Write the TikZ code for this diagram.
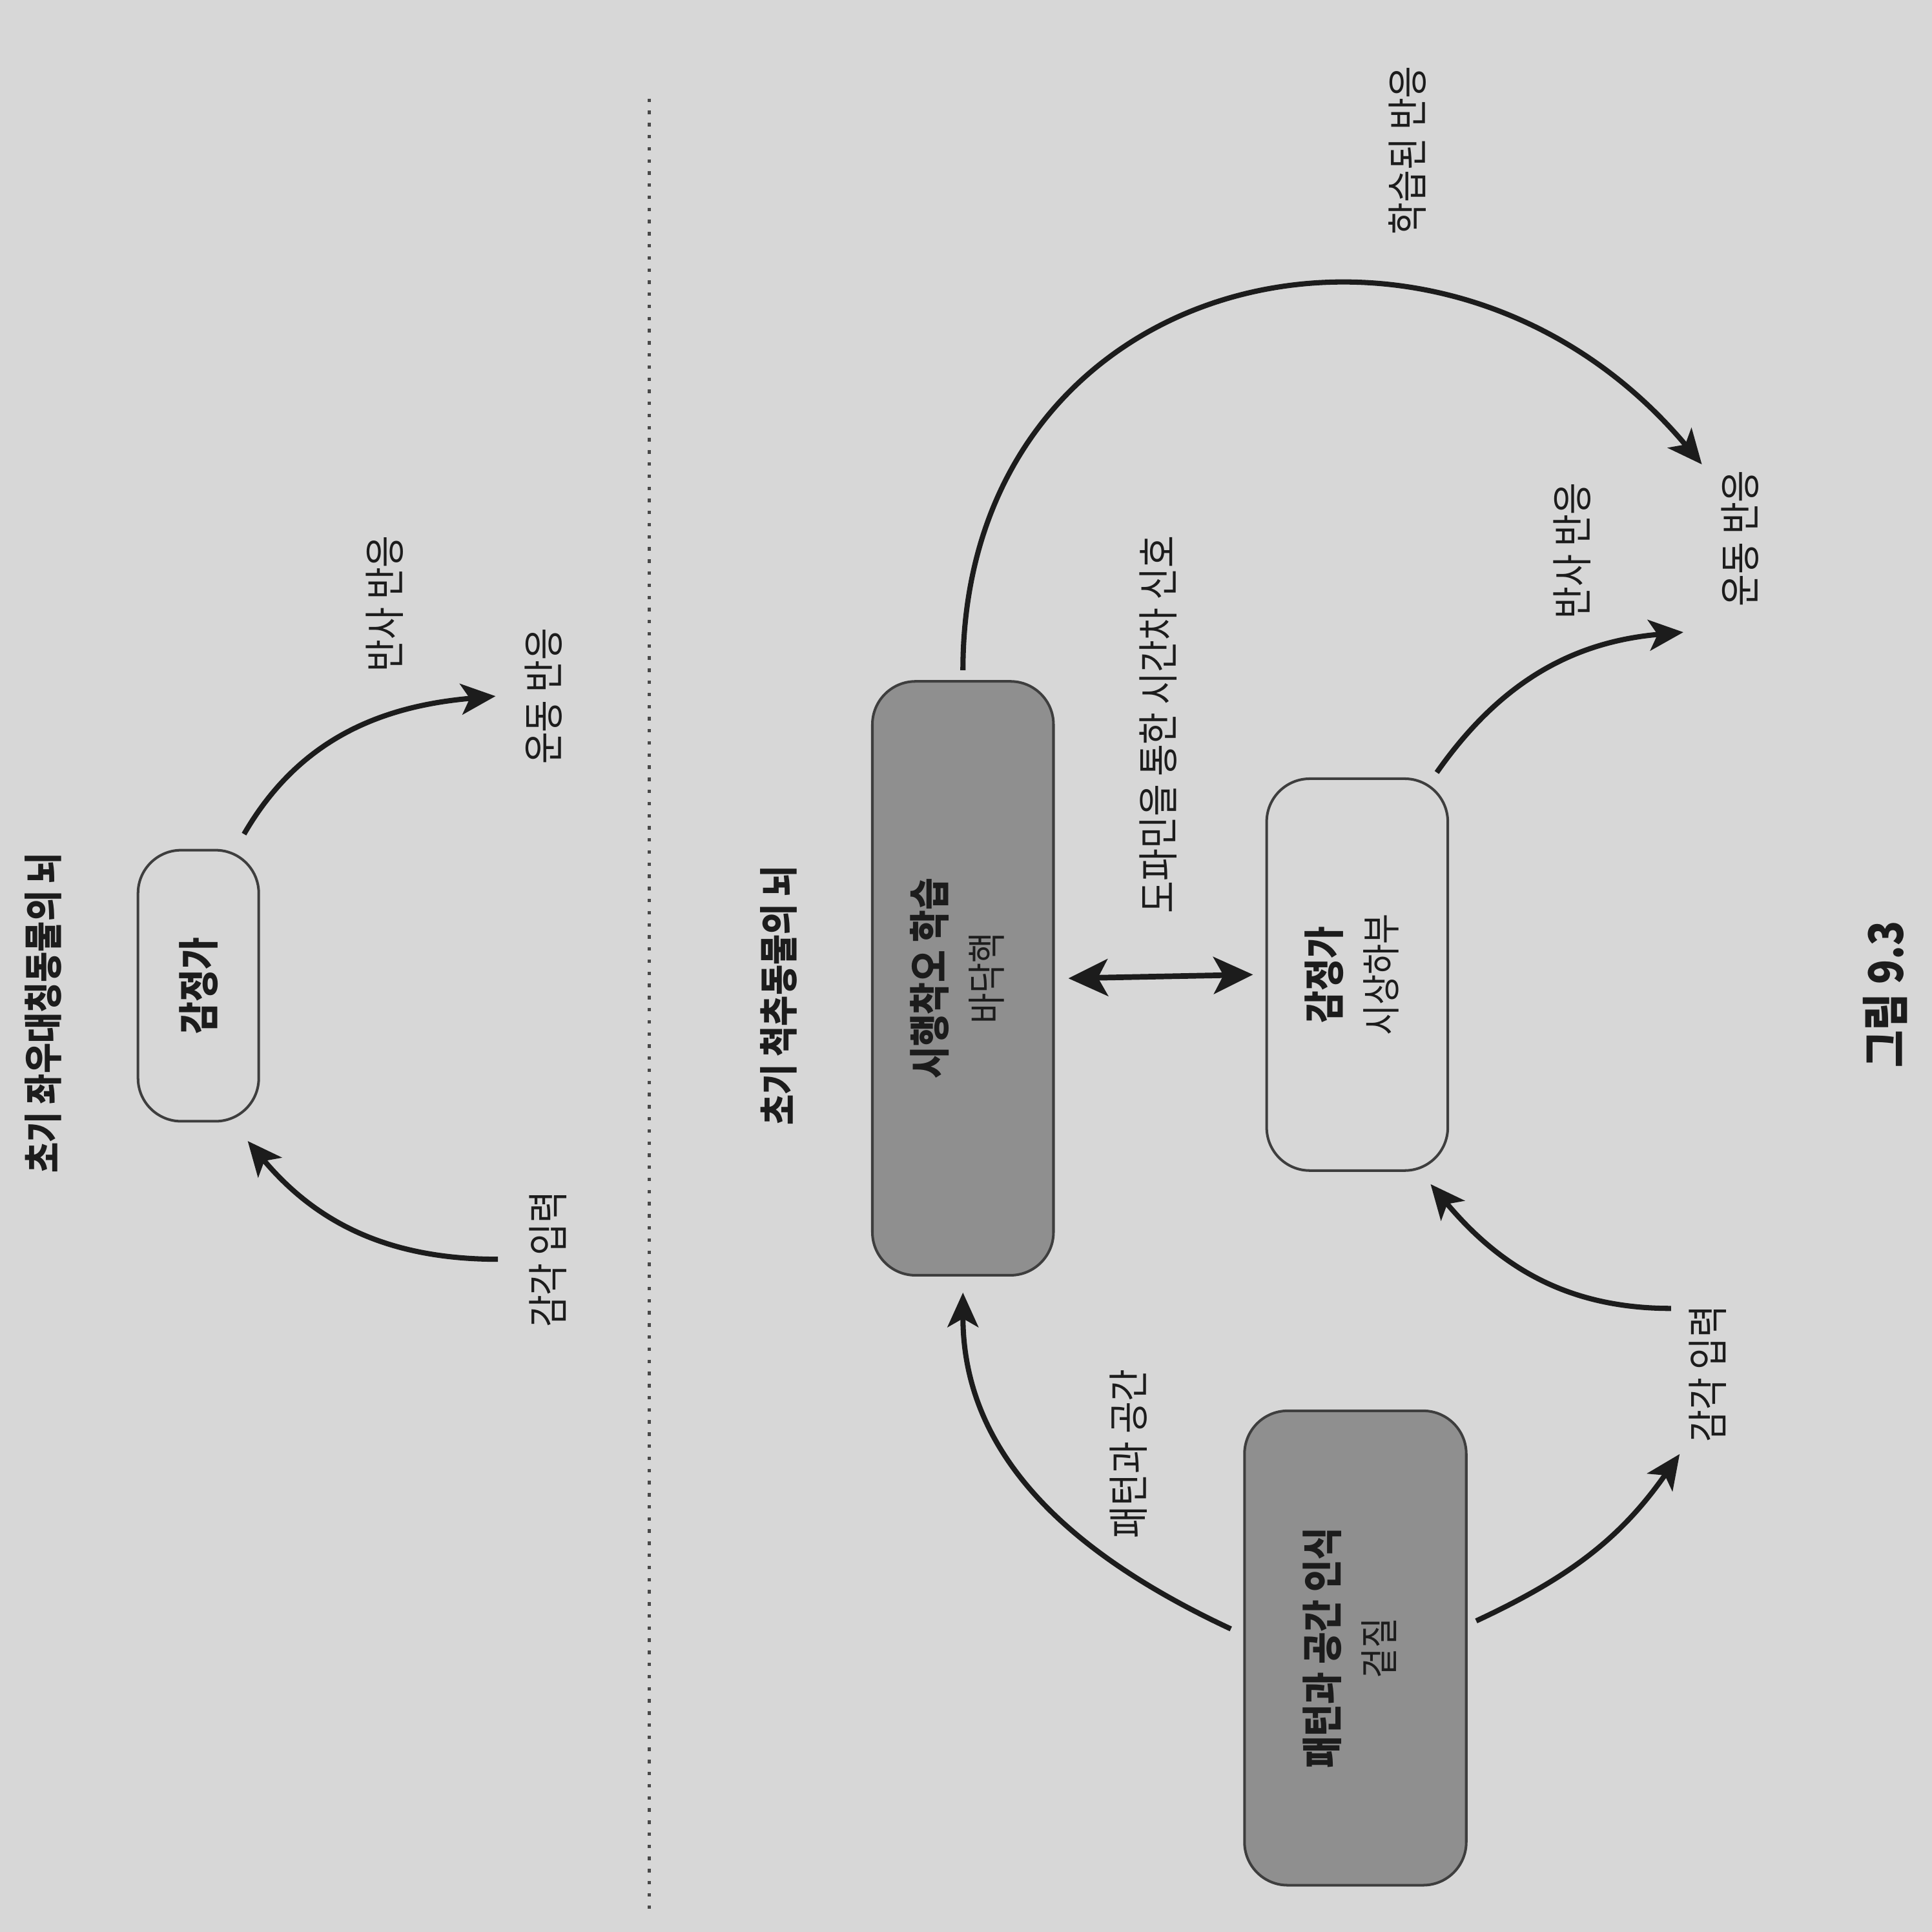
\documentclass[tikz,border=0pt]{standalone}
\usepackage{fontspec}
\setmainfont{Noto Sans CJK KR}[FakeStretch=0.85]
\usepackage{graphicx}
\usetikzlibrary{arrows.meta}

\definecolor{paper}{HTML}{D7D7D7}
\definecolor{ink}{HTML}{1C1C1C}
\definecolor{shade}{HTML}{8F8F8F}
\newcommand{\turntext}[1]{\rotatebox{90}{#1}}

\begin{document}
\begin{tikzpicture}[
  lbl/.style={inner sep=0pt,text=ink,font=\fontsize{9.5}{11}\selectfont},
  unit/.style={draw=ink!85,line width=0.6pt,rounded corners=3.5mm,text=ink,inner sep=0pt,font=\fontsize{9.5}{11}\selectfont},
  link/.style={ink,line width=1.2pt,-{Stealth[length=2.8mm,width=2.5mm,inset=0.7mm]}}
]
\fill[paper] (0,0) rectangle (15.68,-15.68);
\useasboundingbox (0,0) rectangle (15.68,-15.68);

% left: early bilaterian
\node[lbl,font=\fontsize{9}{11}\selectfont\bfseries] (titleL) at (0.35,-8.22) {\turntext{초기 좌우대칭동물의 뇌}};
\node[unit,minimum width=0.98cm,minimum height=2.2cm] (val) at (1.61,-8.0) {\turntext{\textbf{감정가}}};
\node[lbl] (reflexL) at (3.12,-4.9) {\turntext{반사 반응}};
\node[lbl] (motorL) at (4.41,-5.65) {\turntext{운동 반응}};
\node[lbl] (senseL) at (4.45,-10.22) {\turntext{감각 입력}};
\draw[link] ([shift={(-0.13,0.12)}]val.north east) to[out=60,in=185] ([xshift=-2.3mm]motorL.west);
\draw[link] ([xshift=-2.5mm]senseL.west) to[out=180,in=-50] ([shift={(-0.1,-0.15)}]val.south east);

\draw[ink!80,dotted,line width=0.8pt] (5.27,-0.8) -- (5.27,-15.5);

% right: early vertebrate
\node[lbl,font=\fontsize{9}{11}\selectfont\bfseries] (titleR) at (6.32,-8.08) {\turntext{초기 척추동물의 뇌}};
\node[unit,fill=shade,minimum width=1.47cm,minimum height=4.82cm] (basal) at (7.815,-7.94)
  {\turntext{\begin{tabular}{@{}c@{}}\textbf{시행착오 학습}\\[2pt]{\fontsize{9}{10}\selectfont 바닥핵}\end{tabular}}};
\node[unit,minimum width=1.47cm,minimum height=3.18cm] (hypo) at (11.015,-7.91)
  {\turntext{\begin{tabular}{@{}c@{}}\textbf{감정가}\\[2pt]{\fontsize{9}{10}\selectfont 시상하부}\end{tabular}}};
\node[unit,fill=shade,minimum width=1.8cm,minimum height=3.85cm] (cortex) at (11.0,-13.375)
  {\turntext{\begin{tabular}{@{}c@{}}\textbf{패턴과 공간 인식}\\[2pt]{\fontsize{9}{10}\selectfont 겉질}\end{tabular}}};

\node[lbl] (dopa) at (9.40,-5.88) {\turntext{도파민을 통한 시간차 신호}};
\node[lbl] (learned) at (11.42,-1.22) {\turntext{학습된 반응}};
\node[lbl] (reflexR) at (12.76,-4.47) {\turntext{반사 반응}};
\node[lbl] (motorR) at (14.12,-4.37) {\turntext{운동 반응}};
\node[lbl] (pattern) at (9.16,-11.80) {\turntext{패턴과 공간}};
\node[lbl] (senseR) at (13.86,-11.15) {\turntext{감각 입력}};

\draw[ink,line width=1.3pt,{Stealth[length=3.2mm,width=3mm,inset=0.8mm]}-{Stealth[length=3.2mm,width=3mm,inset=0.8mm]}]
  ([xshift=1.1mm]basal.east) -- ([xshift=-1mm]hypo.west);
\draw[link] ([yshift=0.8mm]basal.north) to[out=90,in=130,looseness=1.35] ([shift={(-0.15,0.04)}]motorR.north west);
\draw[link] ([shift={(-0.1,0.04)}]hypo.north east) to[out=55,in=185] ([shift={(-0.3,-0.2)}]motorR.south west);
\draw[link] ([shift={(-0.1,0.155)}]cortex.west) to[out=155,in=-90] ([yshift=-1.3mm]basal.south);
\draw[link] ([shift={(0.07,0.22)}]cortex.east) to[out=25,in=-125] ([shift={(-0.07,-0.09)}]senseR.south west);
\draw[link] ([shift={(-0.14,-0.03)}]senseR.north west) to[out=180,in=-50] ([shift={(-0.15,-0.1)}]hypo.south east);

\node[lbl,font=\fontsize{11}{13}\selectfont\bfseries] (fig) at (15.30,-8.07) {\turntext{그림 9.3}};
\end{tikzpicture}
\end{document}
